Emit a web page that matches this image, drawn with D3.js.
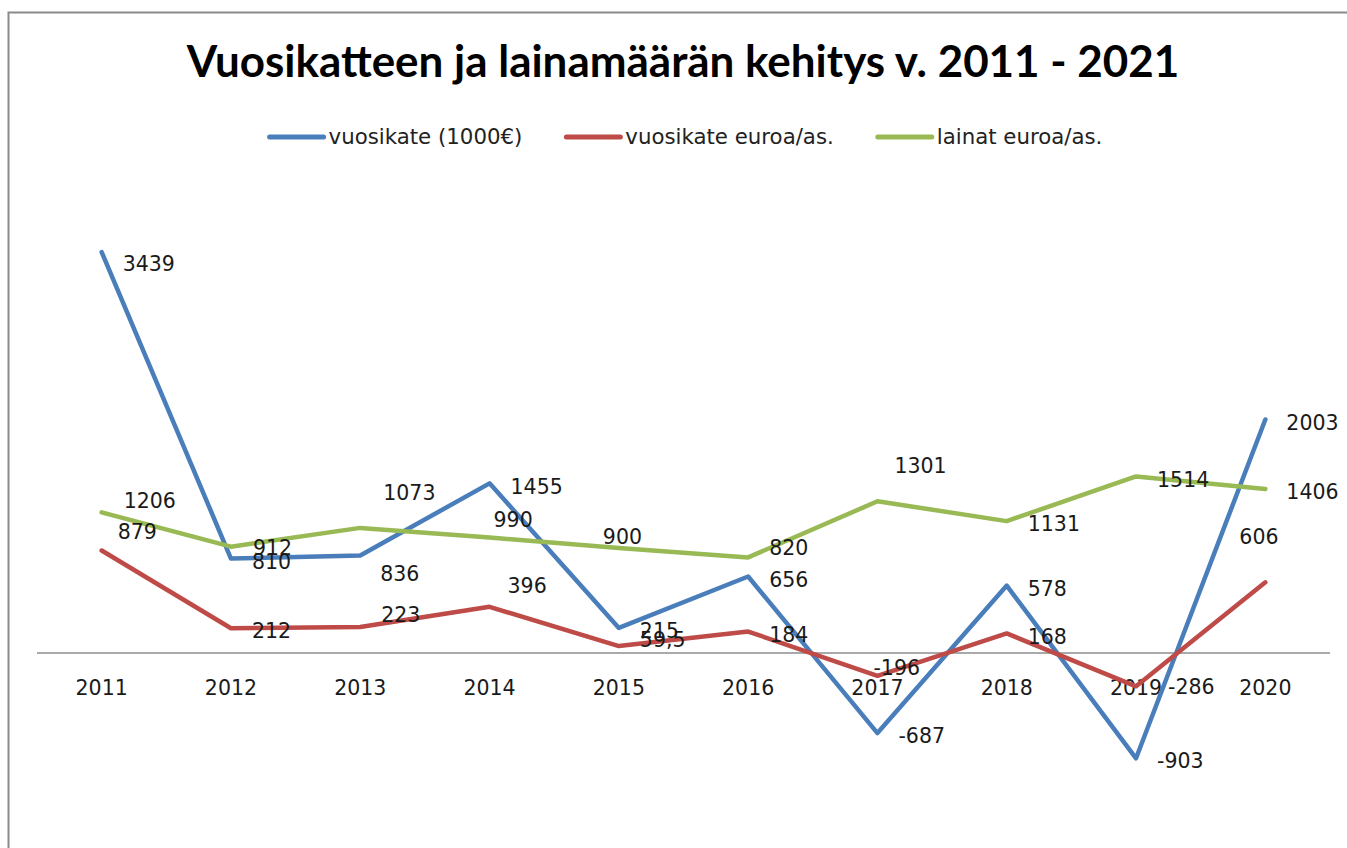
<!DOCTYPE html>
<html>
<head>
<meta charset="utf-8">
<script src="https://cdn.jsdelivr.net/npm/d3@7"></script>
<style>
  html, body { margin: 0; padding: 0; background: #fff; }
  svg { display: block; }
</style>
</head>
<body>
<svg id="chart" width="1347" height="848"></svg>
<script>
// ---------- data ----------
const years = ["2011","2012","2013","2014","2015","2016","2017","2018","2019","2020"];
const seriesNames = ["vuosikate (1000€)", "vuosikate euroa/as.", "lainat euroa/as."];
const vuosikate1000 = [3439, 810, 836, 1455, 215, 656, -687, 578, -903, 2003];
const vuosikateAs   = [879, 212, 223, 396, 59.5, 184, -196, 168, -286, 606];
const lainatAs      = [1206, 912, 1073, 990, 900, 820, 1301, 1131, 1514, 1406];
const titleText = "Vuosikatteen ja lainamäärän kehitys v. 2011 - 2021";

// ---------- layout / style ----------
const colors = ["#4A7EBB", "#BE4B48", "#98B954"];
const labelFont = "'DejaVu Sans', sans-serif";
const labelSize = 20.5;
const legendSize = 21.3;
// manual data-label nudges (px) relative to the point; default is right of point
const defaultNudge = [21, 3];
const labelNudges = [
  {0: [21, 12], 2: [20, 18]},
  {0: [16, -19], 2: [21, -12], 3: [18, -21], 4: [21, -6], 6: [-4, -8], 8: [32, 0], 9: [-26, -46]},
  {0: [22, -12], 1: [22, 1], 2: [23, -35], 3: [4, -18], 4: [-16, -11], 5: [21, -10], 6: [17, -35]}
];

const svg = d3.select("#chart");

// chart border (cropped on right/bottom like the reference)
svg.append("rect")
  .attr("x", 8.5).attr("y", 12.5).attr("width", 1400).attr("height", 900)
  .attr("fill", "#fff").attr("stroke", "#8a8a8a").attr("stroke-width", 2);

// scales
const x = d3.scaleBand().domain(years).range([37, 1330]);
const y = d3.scaleLinear().domain([-1000, 4000]).range([769.6, 186.6]);
const cx = d => x(d) + x.bandwidth() / 2;

// title, fitted to the reference width
const title = svg.append("text")
  .attr("x", 683).attr("y", 77)
  .attr("text-anchor", "middle")
  .attr("font-family", "Lato, 'Open Sans', sans-serif")
  .attr("font-weight", "bold")
  .attr("font-size", 44)
  .attr("fill", "#000")
  .text(titleText);
{
  const w = title.node().getComputedTextLength();
  title.attr("font-size", 44 * 993 / w);
}

// legend
const legend = svg.append("g");
let lx = 0;
const itemGap = 44;
seriesNames.forEach((name, i) => {
  const g = legend.append("g");
  g.append("line").attr("x1", lx).attr("x2", lx + 54).attr("y1", 0).attr("y2", 0)
    .attr("stroke", colors[i]).attr("stroke-width", 5).attr("stroke-linecap", "round");
  const t = g.append("text").attr("x", lx + 59).attr("y", 0).attr("dy", "0.35em")
    .attr("font-family", labelFont).attr("font-size", legendSize).attr("fill", "#222").text(name);
  const tw = t.node().getComputedTextLength();
  lx += 59 + tw + itemGap;
});
const legendW = lx - itemGap;
legend.attr("transform", `translate(${686 - legendW / 2}, 137)`);

// zero axis line
svg.append("line")
  .attr("x1", 37).attr("x2", 1330).attr("y1", y(0)).attr("y2", y(0))
  .attr("stroke", "#8c8c8c").attr("stroke-width", 1.5);

// category labels
svg.append("g").selectAll("text").data(years).join("text")
  .attr("x", d => cx(d)).attr("y", 688).attr("dy", "0.35em")
  .attr("text-anchor", "middle")
  .attr("font-family", labelFont).attr("font-size", labelSize).attr("fill", "#1a1a1a")
  .text(d => d);

// lines
const allSeries = [vuosikate1000, vuosikateAs, lainatAs];
const lineGen = d3.line().x((d, i) => cx(years[i])).y(d => y(d));
allSeries.forEach((vals, s) => {
  svg.append("path").datum(vals)
    .attr("d", lineGen)
    .attr("fill", "none").attr("stroke", colors[s]).attr("stroke-width", 4.5)
    .attr("stroke-linejoin", "round").attr("stroke-linecap", "round");
});

// data labels
const fmt = v => String(v).replace(".", ",");
allSeries.forEach((vals, s) => {
  svg.append("g").selectAll("text").data(vals).join("text")
    .attr("x", (d, i) => cx(years[i]) + (labelNudges[s][i] || defaultNudge)[0])
    .attr("y", (d, i) => y(d) + (labelNudges[s][i] || defaultNudge)[1])
    .attr("dy", "0.35em")
    .attr("font-family", labelFont).attr("font-size", labelSize).attr("fill", "#1a1a1a")
    .text(d => fmt(d));
});
</script>
</body>
</html>
